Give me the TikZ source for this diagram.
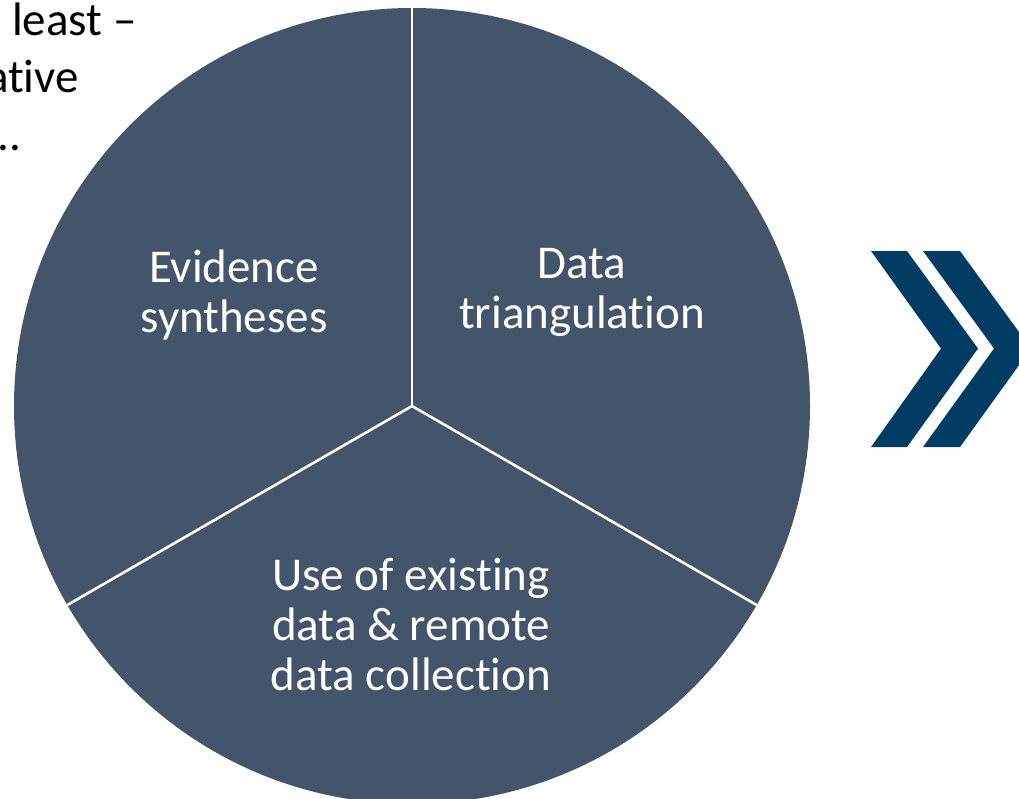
\documentclass[tikz,border=0pt]{standalone}
\usepackage{fontspec}
\setmainfont{Carlito}[Ligatures=NoCommon]
\usetikzlibrary{positioning}

\definecolor{slate}{HTML}{44546A}
\definecolor{navy}{HTML}{003C64}

\begin{document}
\begin{tikzpicture}[
    x=1pt, y=-1pt,
    piefill/.style={fill=slate},
    divider/.style={draw=white, line width=2.6pt},
    pietext/.style={text=white, align=center, font=\fontsize{47}{50}\selectfont, inner sep=0pt},
    sidetext/.style={text=black, font=\fontsize{47}{50}\selectfont, inner sep=0pt},
    chevron/.style={fill=navy}
]
\useasboundingbox (0,0) rectangle (1019,798);
\clip (0,0) rectangle (1019,798);

% cut-off text on the left
\node[sidetext, anchor=base west] (line1) at (12,35) {least --};
\node[sidetext, anchor=base east] (line2) at (79,92) {ative};
\node[sidetext, anchor=base west] (line3) at (-3,150) {..};

% pie
\coordinate (c) at (412,406);
\fill[piefill] (c) circle (398);
\draw[divider] (c) -- ++(0,-399);
\draw[divider] (c) -- ++(-345.5,199.5);
\draw[divider] (c) -- ++(345.5,199.5);

% labels
\node[pietext] (evid) at (234,295) {Evidence\\syntheses};
\node[pietext] (tri) at (582,292) {Data\\triangulation};
\node[pietext] (data) at (411,624) {Use of existing\\data \& remote\\data collection};

% double chevron
\fill[chevron] (871,251) -- (907,251) -- (978,348.5) -- (907,447) -- (871,447) -- (941,348.5) -- cycle;
\fill[chevron] (923,251) -- (960,251) -- (1031,348.5) -- (960,447) -- (923,447) -- (994,348.5) -- cycle;

\end{tikzpicture}
\end{document}
